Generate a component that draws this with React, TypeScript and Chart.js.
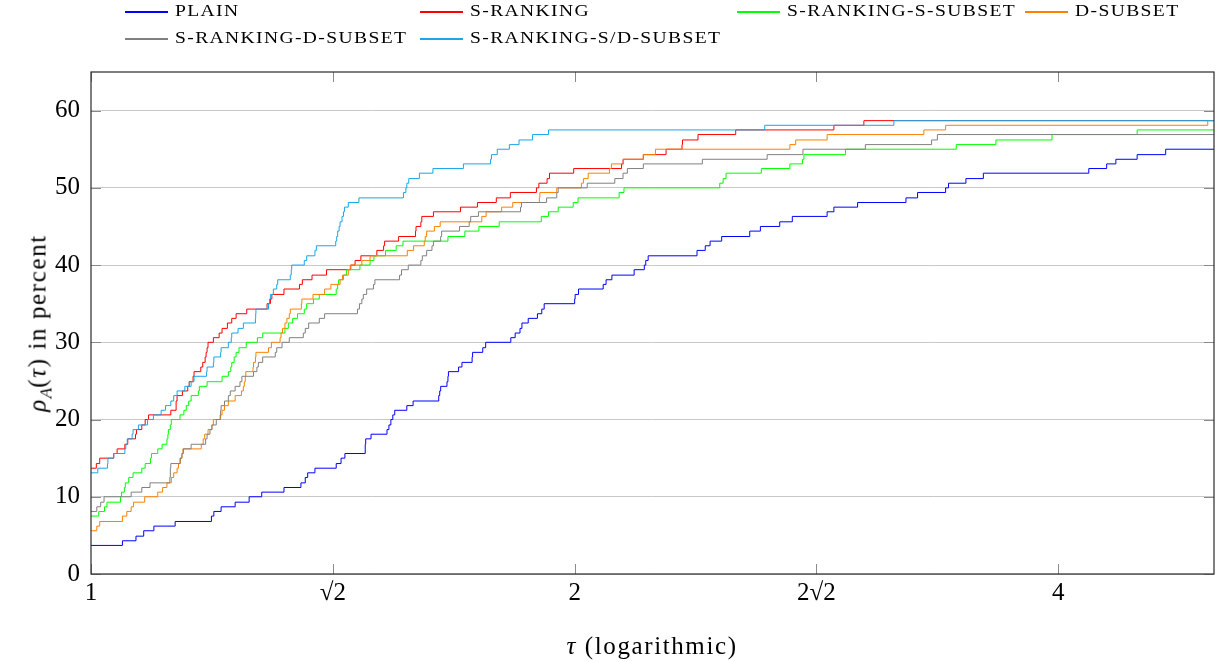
import React, { useEffect, useRef } from 'react';
import { Chart, registerables } from 'chart.js';

Chart.register(...registerables);

// ---- Data (x = log2(tau); y = rho_A(tau) in percent) ----
const plainLog2Tau = [0, 0.065, 0.093, 0.109, 0.130, 0.174, 0.249, 0.254, 0.269, 0.298, 0.327, 0.353, 0.399, 0.434, 0.443, 0.448, 0.463, 0.507, 0.517, 0.525, 0.567, 0.568, 0.579, 0.612, 0.616, 0.620, 0.624, 0.628, 0.653, 0.666, 0.719, 0.721, 0.723, 0.736, 0.738, 0.739, 0.760, 0.767, 0.788, 0.789, 0.810, 0.816, 0.868, 0.877, 0.887, 0.891, 0.904, 0.923, 0.932, 0.937, 1.000, 1.001, 1.008, 1.059, 1.065, 1.077, 1.123, 1.144, 1.147, 1.152, 1.253, 1.270, 1.280, 1.304, 1.362, 1.384, 1.424, 1.450, 1.522, 1.536, 1.585, 1.685, 1.709, 1.767, 1.773, 1.809, 1.845, 2.063, 2.100, 2.119, 2.163, 2.222, 2.322];
const plainRho = [3.7, 4.3, 4.9, 5.6, 6.2, 6.8, 7.5, 8.1, 8.7, 9.3, 10.0, 10.6, 11.2, 11.8, 12.5, 13.1, 13.7, 14.3, 15.0, 15.6, 16.8, 17.5, 18.1, 18.7, 19.3, 20.0, 20.6, 21.2, 21.8, 22.4, 23.1, 23.7, 24.3, 24.9, 25.6, 26.2, 26.8, 27.4, 28.1, 28.7, 29.3, 30.0, 30.6, 31.2, 31.8, 32.5, 33.1, 33.7, 34.3, 35.0, 35.6, 36.2, 36.9, 37.5, 38.1, 38.7, 39.4, 40.0, 40.6, 41.2, 41.9, 42.5, 43.1, 43.7, 44.4, 45.0, 45.6, 46.3, 46.9, 47.5, 48.1, 48.7, 49.4, 50.0, 50.6, 51.2, 51.9, 52.5, 53.1, 53.7, 54.3, 55.0, 55.0];

const sRankingLog2Tau = [0, 0.011, 0.018, 0.047, 0.054, 0.070, 0.076, 0.092, 0.094, 0.105, 0.112, 0.119, 0.165, 0.176, 0.178, 0.189, 0.200, 0.203, 0.211, 0.213, 0.227, 0.231, 0.236, 0.238, 0.240, 0.242, 0.253, 0.265, 0.271, 0.282, 0.291, 0.300, 0.322, 0.364, 0.371, 0.374, 0.399, 0.431, 0.437, 0.457, 0.487, 0.537, 0.546, 0.558, 0.591, 0.605, 0.607, 0.636, 0.671, 0.672, 0.682, 0.684, 0.708, 0.764, 0.799, 0.838, 0.867, 0.921, 0.926, 0.943, 0.948, 0.998, 1.097, 1.100, 1.142, 1.189, 1.222, 1.223, 1.255, 1.333, 1.536, 1.598, 2.322];
const sRankingRho = [13.7, 14.3, 15.0, 15.6, 16.2, 16.8, 17.5, 18.1, 18.7, 19.3, 20.0, 20.6, 21.2, 22.4, 23.1, 23.7, 24.3, 24.9, 25.6, 26.2, 26.8, 27.4, 28.1, 28.7, 29.3, 30.0, 30.6, 31.2, 31.8, 32.5, 33.1, 33.7, 34.3, 35.0, 35.6, 36.2, 36.9, 37.5, 38.1, 38.7, 39.4, 40.0, 40.6, 41.2, 41.9, 42.5, 43.1, 43.7, 44.4, 45.0, 45.6, 46.3, 46.9, 47.5, 48.1, 48.7, 49.4, 50.0, 50.6, 51.2, 51.9, 52.5, 53.1, 53.7, 54.3, 55.0, 55.6, 56.2, 56.9, 57.5, 58.1, 58.7, 58.7];

const sRankingSSubsetLog2Tau = [0, 0.016, 0.028, 0.033, 0.061, 0.063, 0.069, 0.071, 0.078, 0.087, 0.105, 0.112, 0.123, 0.125, 0.138, 0.147, 0.157, 0.159, 0.160, 0.164, 0.166, 0.184, 0.192, 0.197, 0.202, 0.207, 0.222, 0.224, 0.240, 0.271, 0.284, 0.289, 0.291, 0.296, 0.300, 0.306, 0.321, 0.344, 0.355, 0.401, 0.408, 0.417, 0.427, 0.441, 0.446, 0.460, 0.472, 0.507, 0.510, 0.512, 0.522, 0.528, 0.556, 0.577, 0.585, 0.609, 0.631, 0.645, 0.738, 0.773, 0.802, 0.844, 0.931, 0.946, 0.966, 0.997, 1.007, 1.092, 1.102, 1.300, 1.307, 1.313, 1.386, 1.445, 1.471, 1.474, 1.560, 1.789, 1.871, 1.987, 2.163, 2.322];
const sRankingSSubsetRho = [7.5, 8.1, 8.7, 9.3, 10.0, 10.6, 11.2, 11.8, 12.5, 13.1, 13.7, 14.3, 15.0, 15.6, 16.2, 16.8, 17.5, 18.1, 18.7, 19.3, 20.0, 20.6, 21.2, 21.8, 22.4, 23.1, 23.7, 24.3, 24.9, 25.6, 26.2, 26.8, 27.4, 28.1, 28.7, 29.3, 30.0, 30.6, 31.2, 31.8, 32.5, 33.1, 33.7, 34.3, 35.0, 35.6, 36.2, 36.9, 37.5, 38.1, 38.7, 39.4, 40.0, 40.6, 41.2, 41.9, 42.5, 43.1, 43.7, 44.4, 45.0, 45.6, 46.3, 46.9, 47.5, 48.1, 48.7, 49.4, 50.0, 50.6, 51.2, 51.9, 52.5, 53.1, 53.7, 54.3, 55.0, 55.6, 56.2, 56.9, 57.5, 57.5];

const dSubsetLog2Tau = [0, 0.012, 0.018, 0.065, 0.074, 0.083, 0.088, 0.111, 0.138, 0.148, 0.157, 0.166, 0.171, 0.178, 0.181, 0.185, 0.188, 0.190, 0.228, 0.232, 0.235, 0.242, 0.250, 0.253, 0.268, 0.271, 0.276, 0.284, 0.298, 0.311, 0.315, 0.317, 0.319, 0.320, 0.335, 0.336, 0.340, 0.341, 0.367, 0.373, 0.391, 0.393, 0.396, 0.401, 0.405, 0.410, 0.412, 0.435, 0.436, 0.459, 0.483, 0.496, 0.515, 0.520, 0.532, 0.536, 0.560, 0.577, 0.654, 0.667, 0.689, 0.691, 0.694, 0.710, 0.722, 0.808, 0.817, 0.849, 0.872, 0.927, 0.928, 0.963, 1.014, 1.018, 1.028, 1.072, 1.076, 1.101, 1.142, 1.167, 1.445, 1.457, 1.522, 1.722, 1.767, 2.309, 2.322];
const dSubsetRho = [5.6, 6.2, 6.8, 7.5, 8.1, 8.7, 9.3, 10.0, 10.6, 11.2, 11.8, 12.5, 13.1, 13.7, 14.3, 15.0, 15.6, 16.2, 16.8, 17.5, 18.1, 18.7, 19.3, 20.0, 20.6, 21.2, 21.8, 22.4, 23.1, 23.7, 24.3, 24.9, 25.6, 26.2, 26.8, 27.4, 28.1, 28.7, 29.3, 30.0, 30.6, 31.2, 31.8, 32.5, 33.1, 33.7, 34.3, 35.0, 35.6, 36.2, 36.9, 37.5, 38.1, 38.7, 39.4, 40.0, 40.6, 41.2, 41.9, 42.5, 43.1, 43.7, 44.4, 45.0, 45.6, 46.3, 46.9, 47.5, 48.1, 48.7, 49.4, 50.0, 50.6, 51.2, 51.9, 52.5, 53.1, 53.7, 54.3, 55.0, 55.6, 56.2, 56.9, 57.5, 58.1, 58.7, 58.7];

const sRankingDSubsetLog2Tau = [0, 0.012, 0.020, 0.027, 0.083, 0.105, 0.122, 0.163, 0.164, 0.165, 0.184, 0.188, 0.191, 0.207, 0.237, 0.240, 0.246, 0.250, 0.259, 0.267, 0.268, 0.269, 0.276, 0.284, 0.288, 0.298, 0.308, 0.312, 0.336, 0.343, 0.346, 0.355, 0.381, 0.384, 0.395, 0.410, 0.439, 0.443, 0.450, 0.472, 0.483, 0.551, 0.555, 0.560, 0.563, 0.570, 0.584, 0.587, 0.638, 0.642, 0.656, 0.682, 0.685, 0.694, 0.705, 0.708, 0.723, 0.725, 0.762, 0.782, 0.785, 0.801, 0.888, 0.890, 0.942, 0.963, 0.966, 1.026, 1.083, 1.100, 1.109, 1.142, 1.264, 1.398, 1.472, 1.601, 1.738, 1.750, 2.322];
const sRankingDSubsetRho = [8.1, 8.7, 9.3, 10.0, 10.6, 11.2, 11.8, 12.5, 13.7, 14.3, 15.0, 15.6, 16.2, 16.8, 17.5, 18.1, 18.7, 19.3, 20.0, 20.6, 21.2, 21.8, 22.4, 23.1, 23.7, 24.3, 24.9, 25.6, 26.2, 26.8, 27.4, 28.1, 28.7, 29.3, 30.0, 30.6, 31.2, 31.8, 32.5, 33.1, 33.7, 34.3, 35.0, 35.6, 36.2, 36.9, 37.5, 38.1, 38.7, 39.4, 40.0, 40.6, 41.2, 41.9, 42.5, 43.1, 43.7, 44.4, 45.0, 45.6, 46.3, 46.9, 47.5, 48.1, 48.7, 49.4, 50.0, 50.6, 51.2, 51.9, 52.5, 53.1, 53.7, 54.3, 55.0, 55.6, 56.2, 56.9, 56.9];

const sRankingSDSubsetLog2Tau = [0, 0.014, 0.034, 0.035, 0.047, 0.070, 0.072, 0.075, 0.085, 0.087, 0.098, 0.117, 0.129, 0.145, 0.154, 0.165, 0.171, 0.178, 0.194, 0.207, 0.213, 0.239, 0.240, 0.253, 0.254, 0.268, 0.269, 0.284, 0.290, 0.291, 0.304, 0.315, 0.340, 0.3405, 0.341, 0.367, 0.369, 0.371, 0.377, 0.384, 0.386, 0.412, 0.414, 0.415, 0.441, 0.446, 0.463, 0.466, 0.506, 0.508, 0.510, 0.513, 0.515, 0.519, 0.522, 0.524, 0.532, 0.554, 0.646, 0.651, 0.653, 0.657, 0.679, 0.707, 0.770, 0.826, 0.828, 0.840, 0.865, 0.885, 0.913, 0.946, 1.393, 1.660, 2.322];
const sRankingSDSubsetRho = [13.1, 13.7, 14.3, 15.0, 15.6, 16.2, 16.8, 17.5, 18.1, 18.7, 19.3, 20.0, 20.6, 21.2, 21.8, 22.4, 23.1, 23.7, 24.3, 24.9, 25.6, 26.2, 26.8, 27.4, 28.1, 28.7, 29.3, 30.0, 30.6, 31.2, 31.8, 32.5, 33.1, 33.7, 34.3, 35.0, 35.6, 36.2, 36.9, 37.5, 38.1, 38.7, 39.4, 40.0, 40.6, 41.2, 41.9, 42.5, 43.1, 43.7, 44.4, 45.0, 45.6, 46.3, 46.9, 47.5, 48.1, 48.7, 49.4, 50.0, 50.6, 51.2, 51.9, 52.5, 53.1, 53.7, 54.3, 55.0, 55.6, 56.2, 56.9, 57.5, 58.1, 58.7, 58.7];

const seriesNames = ['PLAIN', 'S-RANKING', 'S-RANKING-S-SUBSET', 'D-SUBSET', 'S-RANKING-D-SUBSET', 'S-RANKING-S/D-SUBSET'];
const seriesColors = ['#0000ff', '#ff0000', '#00ff00', '#ff8000', '#808080', '#1aa6e8'];
const seriesX = [plainLog2Tau, sRankingLog2Tau, sRankingSSubsetLog2Tau, dSubsetLog2Tau, sRankingDSubsetLog2Tau, sRankingSDSubsetLog2Tau];
const seriesY = [plainRho, sRankingRho, sRankingSSubsetRho, dSubsetRho, sRankingDSubsetRho, sRankingSDSubsetRho];

const xTickPositions = [0, 0.5, 1, 1.5, 2]; // log2 of 1, √2, 2, 2√2, 4
const xTickLabels = ['1', '√2', '2', '2√2', '4'];
const yTickValues = [0, 10, 20, 30, 40, 50, 60];
const X_MAX = 2.3219; // log2(5)
const Y_MAX = 65;

const SERIF = '"Liberation Serif", "Times New Roman", serif';

const framePlugin = {
  id: 'pgfFrame',
  afterDatasetsDraw(chart: any) {
    const { ctx, chartArea: a, scales } = chart;
    const tl = 10;
    ctx.save();
    ctx.strokeStyle = '#8a8a8a';
    ctx.lineWidth = 1;
    ctx.beginPath();
    scales.y.ticks.forEach((t: any) => {
      const y = Math.round(scales.y.getPixelForValue(t.value)) + 0.5;
      ctx.moveTo(a.left, y); ctx.lineTo(a.left + tl, y);
      ctx.moveTo(a.right - tl, y); ctx.lineTo(a.right, y);
    });
    scales.x.ticks.forEach((t: any) => {
      const x = Math.round(scales.x.getPixelForValue(t.value)) + 0.5;
      ctx.moveTo(x, a.bottom); ctx.lineTo(x, a.bottom - tl);
      ctx.moveTo(x, a.top); ctx.lineTo(x, a.top + tl);
    });
    ctx.stroke();
    ctx.strokeStyle = '#2a2a2a';
    ctx.lineWidth = 1.2;
    ctx.strokeRect(a.left, a.top, a.right - a.left, a.bottom - a.top);
    ctx.restore();
  },
};

const legendColumns = [125, 420, 737, 1025];
const legendRows = [12, 39];

export default function App() {
  const canvasRef = useRef<HTMLCanvasElement>(null);

  useEffect(() => {
    const canvas = canvasRef.current;
    if (!canvas) return;
    const datasets = seriesNames.map((name, i) => ({
      label: name,
      data: seriesX[i].map((x, j) => ({ x, y: seriesY[i][j] })),
      borderColor: seriesColors[i],
      backgroundColor: seriesColors[i],
      borderWidth: 1,
      pointRadius: 0,
      stepped: true,
      fill: false,
      order: seriesNames.length - 1 - i,
    }));
    const chart = new Chart(canvas, {
      type: 'line',
      data: { datasets },
      options: {
        responsive: false,
        animation: false,
        devicePixelRatio: 1,
        events: [],
        layout: { padding: { top: 72, right: 4, left: 0, bottom: 0 } },
        plugins: { legend: { display: false }, tooltip: { enabled: false } },
        scales: {
          x: {
            type: 'linear',
            min: 0,
            max: X_MAX,
            grid: { display: false, drawTicks: false },
            border: { display: false },
            afterBuildTicks: (s: any) => { s.ticks = xTickPositions.map((v) => ({ value: v })); },
            afterFit: (s: any) => { s.height = 88; },
            ticks: {
              autoSkip: false,
              maxRotation: 0,
              padding: 4,
              color: '#000',
              font: { family: SERIF, size: 25 },
              callback: (_v: any, i: number) => xTickLabels[i],
            },
          },
          y: {
            type: 'linear',
            min: 0,
            max: Y_MAX,
            grid: { color: '#c8c8c8', lineWidth: 1, drawTicks: false },
            border: { display: false },
            afterBuildTicks: (s: any) => { s.ticks = yTickValues.map((v) => ({ value: v })); },
            afterFit: (s: any) => { s.width = 91; },
            ticks: {
              padding: 11,
              color: '#000',
              font: { family: SERIF, size: 25 },
              callback: (v: any) => String(v),
            },
          },
        },
      } as any,
      plugins: [framePlugin],
    });
    return () => chart.destroy();
  }, []);

  return (
    <div style={{ position: 'absolute', left: 0, top: 0, width: 1218, height: 662, background: '#fff', fontFamily: SERIF }}>
      <canvas ref={canvasRef} width={1218} height={662} style={{ position: 'absolute', left: 0, top: 0, width: 1218, height: 662 }} />
      {seriesNames.map((name, i) => {
        const row = i < 4 ? 0 : 1;
        const col = i < 4 ? i : i - 4;
        const x = legendColumns[col];
        const y = legendRows[row];
        return (
          <div key={name}>
            <div style={{ position: 'absolute', left: x, top: y - 1, width: 43, height: 2, backgroundColor: seriesColors[i] }} />
            <div style={{ position: 'absolute', left: x + 50, top: y - 11, fontSize: 17, lineHeight: '20px', letterSpacing: '1.2px', transform: 'scaleX(1.15)', transformOrigin: 'left center', color: '#000', whiteSpace: 'nowrap' }}>{name}</div>
          </div>
        );
      })}
      <div style={{ position: 'absolute', left: 652, top: 646, transform: 'translate(-50%, -50%)', fontSize: 25, letterSpacing: '1.6px', whiteSpace: 'nowrap', color: '#000' }}>
        <i>τ</i> (logarithmic)
      </div>
      <div style={{ position: 'absolute', left: 40, top: 323, transform: 'translate(-50%, -50%) rotate(-90deg)', fontSize: 25, letterSpacing: '1.6px', whiteSpace: 'nowrap', color: '#000' }}>
        <i>ρ</i><sub style={{ fontSize: 17, fontStyle: 'italic', letterSpacing: 0 }}>A</sub>(<i>τ</i>) in percent
      </div>
    </div>
  );
}
